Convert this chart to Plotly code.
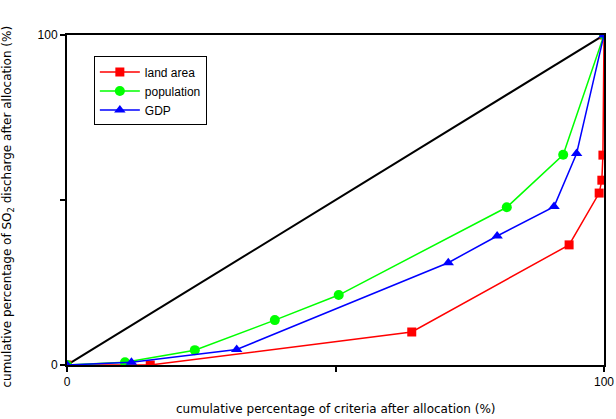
import plotly.graph_objects as go

land_x = [0, 15.5, 64.2, 93.5, 99.1, 99.6, 99.8, 100]
land_y = [0, 0, 10.0, 36.4, 52.1, 56.0, 63.6, 100]

pop_x = [0, 10.8, 23.8, 38.7, 50.6, 81.9, 92.4, 100]
pop_y = [0, 0.8, 4.5, 13.6, 21.2, 47.8, 63.7, 100]

gdp_x = [0, 12.0, 31.6, 71.0, 80.1, 90.7, 94.9, 100]
gdp_y = [0, 0.8, 4.7, 31.0, 39.1, 48.0, 64.1, 100]

diag_x = [0, 100]
diag_y = [0, 100]

tick_vals = [0, 50, 100]
tick_text = ["0", "", "100"]

x_title = "cumulative percentage of criteria after allocation (%)"
y_title = "cumulative percentage of SO<sub>2</sub> discharge after allocation (%)"

fig = go.Figure()
fig.add_trace(go.Scatter(x=diag_x, y=diag_y, mode="lines",
                         line=dict(color="black", width=2), showlegend=False))
fig.add_trace(go.Scatter(x=land_x, y=land_y, mode="lines+markers", name="land area",
                         line=dict(color="#ff0000", width=1.5),
                         marker=dict(symbol="square", size=9, color="#ff0000")))
fig.add_trace(go.Scatter(x=pop_x, y=pop_y, mode="lines+markers", name="population",
                         line=dict(color="#00ff00", width=1.5),
                         marker=dict(symbol="circle", size=10, color="#00ff00")))
fig.add_trace(go.Scatter(x=gdp_x, y=gdp_y, mode="lines+markers", name="GDP",
                         line=dict(color="#0000ff", width=1.5),
                         marker=dict(symbol="triangle-up", size=10, color="#0000ff")))

axis_common = dict(range=[0, 100], tickvals=tick_vals, ticktext=tick_text,
                   showgrid=False, zeroline=False, showline=True, linecolor="black",
                   linewidth=2, ticks="outside", ticklen=5, tickwidth=2, tickcolor="black",
                   mirror=True, automargin=False,
                   tickfont=dict(family="Liberation Sans, Arial", size=12, color="black"))

fig.update_layout(
    width=616, height=419,
    margin=dict(l=67, r=12, t=35, b=54),
    paper_bgcolor="white", plot_bgcolor="white",
    font=dict(family="Liberation Sans, Arial", size=12, color="black"),
    xaxis=dict(**axis_common),
    yaxis=dict(**axis_common),
    legend=dict(x=0.05, y=0.935, xanchor="left", yanchor="top",
                bgcolor="white", bordercolor="black", borderwidth=1,
                font=dict(size=12), tracegroupgap=0, itemwidth=40),
    annotations=[
        dict(text=x_title, xref="paper", yref="paper", x=0.5, y=-0.105,
             xanchor="center", yanchor="top", showarrow=False,
             font=dict(family="DejaVu Sans", size=12, color="black")),
        dict(text=y_title, xref="paper", yref="paper", x=-0.11, y=0.48,
             xanchor="center", yanchor="middle", textangle=-90, showarrow=False,
             font=dict(family="DejaVu Sans", size=12, color="black")),
    ],
)

fig.write_html("out.html", config={"displayModeBar": False},
               post_script="document.body.style.margin='0';")
